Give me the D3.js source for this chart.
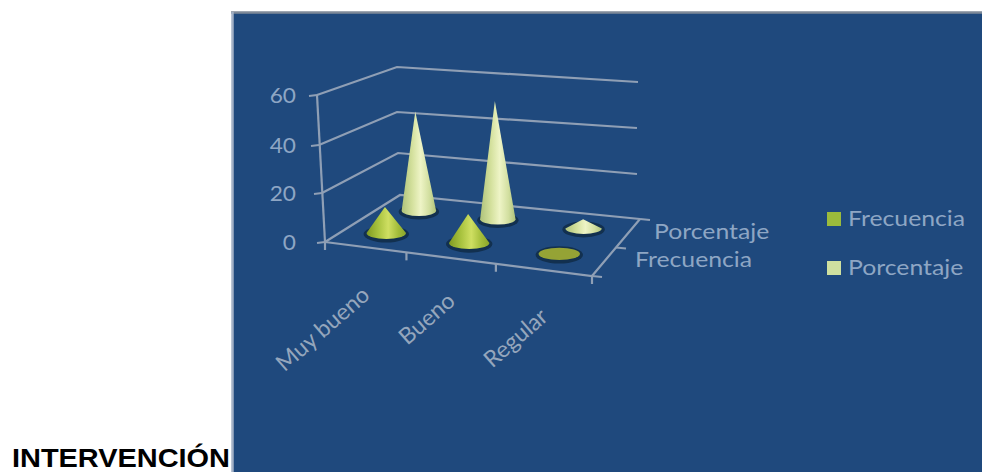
<!DOCTYPE html>
<html lang="es">
<head>
<meta charset="utf-8">
<title>Intervención</title>
<script src="https://cdn.jsdelivr.net/npm/d3@7"></script>
<style>
  html, body { margin: 0; padding: 0; background: #fff; }
  svg { display: block; }
  text { font-family: Lato, "Open Sans", sans-serif; }
</style>
</head>
<body>
<div id="chart"></div>
<script>
const categories = ["Muy bueno", "Bueno", "Regular"];
const seriesNames = ["Frecuencia", "Porcentaje"];
const frecuencia = [11, 12, 1];
const porcentaje = [45, 52, 4];
const valueTicks = [0, 20, 40, 60];
const caption = "INTERVENCIÓN";

const W = 982, H = 472;
const svg = d3.select("#chart").append("svg").attr("width", W).attr("height", H);
const defs = svg.append("defs");

// Panel behind the chart
svg.append("rect").attr("x", 232).attr("y", 12).attr("width", 750).attr("height", 460).attr("fill", "#1f497d");
svg.append("path").attr("d", "M231,12.5H982").attr("fill", "none").attr("stroke", "#7f8a99").attr("stroke-width", 2.5);
svg.append("path").attr("d", "M232.5,12V472").attr("fill", "none").attr("stroke", "#a3b1c6").attr("stroke-width", 2.5);

// Caption is set wide, so it runs right up to the panel
svg.append("text").attr("x", 12).attr("y", 466.5).attr("font-size", 25).attr("font-weight", 700)
  .attr("textLength", 218).attr("lengthAdjust", "spacingAndGlyphs")
  .style("font-family", "'Liberation Sans', Arial, sans-serif").attr("fill", "#000").text(caption);

// Oblique projection: each floor corner carries its own value-axis scales
const corner = (xr, yr) => ({
  x: d3.scaleLinear().domain(valueTicks).range(xr),
  y: d3.scaleLinear().domain(valueTicks).range(yr)
});
const frontLeft = corner([325, 322, 319, 317], [242, 193, 145, 95]);
const backLeft = corner([400, 398, 397, 397], [195, 153, 112, 67]);
const backRight = corner([640, 637, 637, 638], [219, 174, 128, 82]);
const frontRight = { x: d3.scaleLinear().domain([0, 60]).range([592, 592]), y: d3.scaleLinear().domain([0, 60]).range([276, 120]) };

// Category and series positions across the floor, compressed slightly towards the front-left
const uScale = d3.scaleLinear().domain([0, 1, 2, 3]).range([0, 0.305, 0.64, 1]);
const vScale = d3.scalePoint().domain(seriesNames).range([0.29, 0.75]);

function project(u, v, value) {
  const mix = a => (1 - u) * ((1 - v) * a(frontLeft) + v * a(backLeft)) + u * ((1 - v) * a(frontRight) + v * a(backRight));
  return [mix(c => c.x(value)), mix(c => c.y(value))];
}

const gridColor = "#8f9fb5";
const axisLine = d3.line();
const grid = svg.append("g").attr("fill", "none").attr("stroke", gridColor).attr("stroke-width", 2.2);

// Walls: one polyline per value tick
valueTicks.forEach(t => {
  grid.append("path").attr("d", axisLine([project(0, 0, t), project(0, 1, t), project(1, 1, t)]));
  const p = project(0, 0, t);
  grid.append("path").attr("d", axisLine([[p[0] - 8, p[1] + 1], p]));
});
// Vertical axis and floor outline
grid.append("path").attr("d", axisLine([project(0, 0, 60), project(0, 0, 0)]));
grid.append("path").attr("d", axisLine([project(0, 0, 0), project(1, 0, 0), project(1, 1, 0)]));

// Category ticks along the front edge
[0, 1, 2, 3].forEach(i => {
  const p = project(uScale(i), 0, 0);
  grid.append("path").attr("d", axisLine([p, [p[0], p[1] + 8]]));
});
// Series ticks along the right edge
[0, 0.5, 1].forEach(v => {
  const p = project(1, v, 0);
  grid.append("path").attr("d", axisLine([p, [p[0] + 10, p[1] + 1]]));
});

// Cone fills
function gradient(id, stops) {
  const g = defs.append("linearGradient").attr("id", id).attr("x1", 0).attr("x2", 1).attr("y1", 0).attr("y2", 0);
  stops.forEach(([o, c]) => g.append("stop").attr("offset", o).attr("stop-color", c));
}
gradient("cone-Frecuencia", [[0, "#7f9a22"], [0.3, "#a9c33f"], [0.55, "#cfdf62"], [0.8, "#a3bd3a"], [1, "#8aa52a"]]);
gradient("cone-Porcentaje", [[0, "#aec27a"], [0.3, "#d3e09c"], [0.55, "#eef4c6"], [0.8, "#d2dfa0"], [1, "#aec27a"]]);
const coneBase = { Frecuencia: "#95a335", Porcentaje: "#f0f4c8" };

const rows = [
  { name: "Porcentaje", values: porcentaje, rx: 17 },
  { name: "Frecuencia", values: frecuencia, rx: 19.5 }
];

const cones = svg.append("g");
rows.forEach(row => {
  row.values.forEach((val, i) => {
    const u = uScale(i + 0.5), v = vScale(row.name);
    const [bx, by] = project(u, v, 0);
    const [ax, ay] = project(u, v, val);
    const rx = row.rx + u * 1.5, ry = rx * 0.3;
    const g = cones.append("g");
    // Dark contact shadow under the base
    g.append("ellipse").attr("cx", bx).attr("cy", by + 1).attr("rx", rx + 3).attr("ry", ry + 2.5).attr("fill", "#12304f");
    if (val < 2) {
      // Nearly flat: only the base disc is visible
      g.append("ellipse").attr("cx", bx).attr("cy", by).attr("rx", rx).attr("ry", ry).attr("fill", coneBase[row.name]);
    } else {
      g.append("path")
        .attr("d", `M${bx - rx},${by}L${ax},${ay}L${bx + rx},${by}A${rx},${ry} 0 0 1 ${bx - rx},${by}Z`)
        .attr("fill", `url(#cone-${row.name})`);
    }
  });
});

// Glyphs run about a sixth wider than the font's natural width
const WIDE = 1.18;
const labelColor = "#8ea6c4";

// Value axis labels
svg.append("g").selectAll("text").data(valueTicks).join("text")
  .attr("transform", d => `translate(296,${project(0, 0, d)[1] + 8}) scale(1.08,1)`)
  .attr("text-anchor", "end").attr("font-size", 21).attr("fill", labelColor).text(d => d);

// Rotated category labels, each ending below and right of its floor span
const labelDrop = d3.scaleOrdinal().domain(categories).range([50, 45, 49]);
svg.append("g").selectAll("text").data(categories).join("text")
  .attr("transform", (d, i) => {
    const p = project(uScale(i + 0.5), 0, 0);
    return `translate(${p[0] + 5.5},${p[1] + labelDrop(d)}) rotate(-41)`;
  })
  .attr("text-anchor", "end").attr("font-size", 23).attr("fill", "#95a6bc").text(d => d);

// Series labels beside the right floor edge
svg.append("g").selectAll("text").data(seriesNames).join("text")
  .attr("transform", d => d === "Porcentaje" ? `translate(654,239) scale(${WIDE},1)` : `translate(635,267) scale(${WIDE},1)`)
  .attr("font-size", 21).attr("fill", labelColor).text(d => d);

// Legend
const legendY = d3.scalePoint().domain(seriesNames).range([219, 268]);
const legendColor = d3.scaleOrdinal().domain(seriesNames).range(["#9bbb3c", "#cfe0a0"]);
const legend = svg.append("g").selectAll("g").data(seriesNames).join("g")
  .attr("transform", d => `translate(827,${legendY(d)})`);
legend.append("rect").attr("x", 0).attr("y", -7).attr("width", 14).attr("height", 14).attr("fill", d => legendColor(d));
legend.append("text").attr("transform", `translate(21,7) scale(${WIDE},1)`).attr("font-size", 21).attr("fill", labelColor).text(d => d);
</script>
</body>
</html>
